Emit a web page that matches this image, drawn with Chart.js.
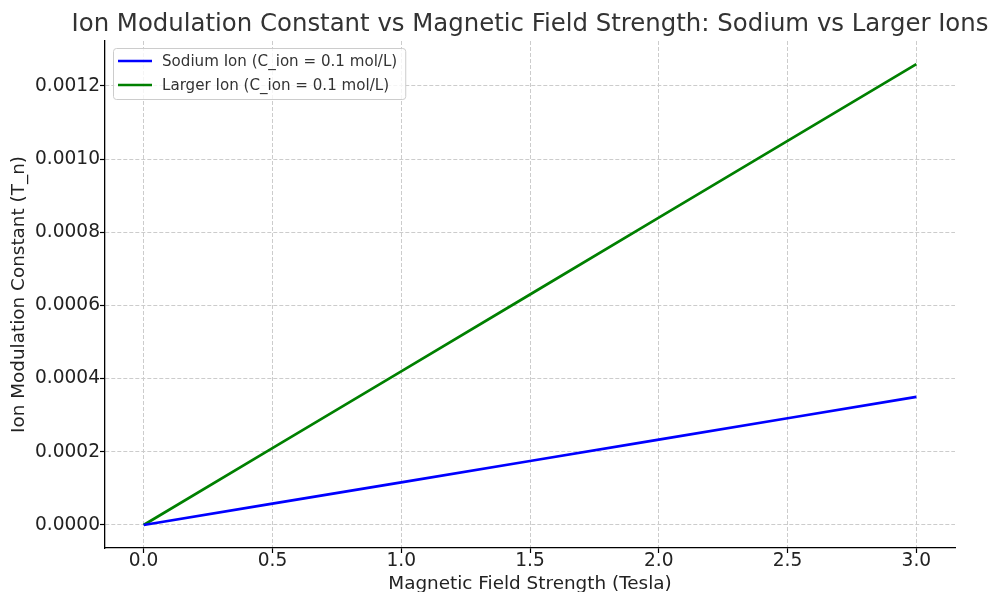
<!DOCTYPE html>
<html>
<head>
<meta charset="utf-8">
<script src="https://cdn.jsdelivr.net/npm/chart.js@4"></script>
<style>
  html, body { margin: 0; padding: 0; background: #fff; }
</style>
</head>
<body>
<canvas id="chart" width="990" height="592"></canvas>
<script>
// data
var fieldStrength = [0.0, 0.5, 1.0, 1.5, 2.0, 2.5, 3.0];
var sodiumIon = [0, 0.0000583, 0.0001167, 0.000175, 0.0002333, 0.0002917, 0.00035];
var largerIon = [0, 0.00021, 0.00042, 0.00063, 0.00084, 0.00105, 0.00126];
var seriesNames = ['Sodium Ion (C_ion = 0.1 mol/L)', 'Larger Ion (C_ion = 0.1 mol/L)'];
var xTicks = [0.0, 0.5, 1.0, 1.5, 2.0, 2.5, 3.0];
var yTicks = [0, 0.0002, 0.0004, 0.0006, 0.0008, 0.0010, 0.0012];
var chartTitle = 'Ion Modulation Constant vs Magnetic Field Strength: Sodium vs Larger Ions';

Chart.defaults.font.family = '"DejaVu Sans", sans-serif';

function toPoints(xs, ys) {
  return xs.map(function(x, i) { return { x: x, y: ys[i] }; });
}

// title centred over the plot area (built-in title squeezes it to fit)
var plotTitle = {
  id: 'plotTitle',
  afterDraw: function(chart) {
    var ctx = chart.ctx;
    var area = chart.chartArea;
    ctx.save();
    ctx.font = '24.4px "DejaVu Sans"';
    ctx.fillStyle = '#333333';
    ctx.textAlign = 'center';
    ctx.textBaseline = 'alphabetic';
    ctx.fillText(chartTitle, (area.left + area.right) / 2, 31);
    ctx.restore();
  }
};

// matplotlib-like legend box in the upper left corner of the plot
var legendBox = {
  id: 'legendBox',
  afterDraw: function(chart) {
    var ctx = chart.ctx;
    var area = chart.chartArea;
    var x = area.left + 8, y = area.top + 7;
    ctx.save();
    ctx.font = '15.1px "DejaVu Sans"';
    var w = 0;
    chart.data.datasets.forEach(function(ds) {
      w = Math.max(w, ctx.measureText(ds.label).width);
    });
    var boxW = 49 + w + 8, boxH = 51;
    ctx.beginPath();
    if (ctx.roundRect) ctx.roundRect(x + 0.5, y + 0.5, boxW, boxH, 3);
    else ctx.rect(x + 0.5, y + 0.5, boxW, boxH);
    ctx.fillStyle = 'rgba(255,255,255,0.8)';
    ctx.fill();
    ctx.strokeStyle = '#cccccc';
    ctx.lineWidth = 1;
    ctx.stroke();

    chart.data.datasets.forEach(function(ds, i) {
      var cy = y + 13 + i * 24;
      ctx.beginPath();
      ctx.moveTo(x + 5, cy);
      ctx.lineTo(x + 39, cy);
      ctx.strokeStyle = ds.borderColor;
      ctx.lineWidth = 2.7;
      ctx.stroke();
      ctx.fillStyle = '#333333';
      ctx.textBaseline = 'middle';
      ctx.textAlign = 'left';
      ctx.fillText(ds.label, x + 49, cy + 1);
    });
    ctx.restore();
  }
};

var tickFont = { size: 18.6 };

new Chart(document.getElementById('chart'), {
  type: 'line',
  data: {
    datasets: [{
      label: seriesNames[0],
      data: toPoints(fieldStrength, sodiumIon),
      borderColor: '#0000ff',
      backgroundColor: '#0000ff',
      borderWidth: 2.7,
      pointRadius: 0,
      tension: 0
    }, {
      label: seriesNames[1],
      data: toPoints(fieldStrength, largerIon),
      borderColor: '#008000',
      backgroundColor: '#008000',
      borderWidth: 2.7,
      pointRadius: 0,
      tension: 0
    }]
  },
  options: {
    responsive: false,
    animation: false,
    devicePixelRatio: 1,
    layout: { padding: { left: 0, right: 35, top: 41, bottom: 0 } },
    plugins: {
      legend: { display: false },
      tooltip: { enabled: false },
      title: { display: false }
    },
    scales: {
      x: {
        type: 'linear',
        min: -0.15,
        max: 3.15,
        afterBuildTicks: function(scale) {
          scale.ticks = xTicks.map(function(v) { return { value: v }; });
        },
        afterFit: function(scale) { scale.height = 44; },
        ticks: {
          color: '#222222',
          font: tickFont,
          padding: -3,
          maxRotation: 0,
          callback: function(v) { return v.toFixed(1); }
        },
        grid: {
          color: '#cccccc',
          lineWidth: 1,
          tickColor: '#000000',
          tickLength: 5,
          tickWidth: 1.2
        },
        border: { display: true, color: '#000000', width: 1.3, dash: [4, 2] },
        title: {
          display: true,
          text: 'Magnetic Field Strength (Tesla)',
          color: '#222222',
          font: { size: 18.4, lineHeight: 1 },
          padding: { top: 0, bottom: -1 }
        }
      },
      y: {
        type: 'linear',
        min: -0.0000629,
        max: 0.001323,
        afterBuildTicks: function(scale) {
          scale.ticks = yTicks.map(function(v) { return { value: v }; });
        },
        afterFit: function(scale) { scale.width = 105; },
        ticks: {
          color: '#222222',
          font: tickFont,
          padding: 0,
          callback: function(v) { return v.toFixed(4); }
        },
        grid: {
          color: '#cccccc',
          lineWidth: 1,
          tickColor: '#000000',
          tickLength: 5,
          tickWidth: 1.2
        },
        border: { display: true, color: '#000000', width: 1.3, dash: [4, 2] },
        title: {
          display: true,
          text: 'Ion Modulation Constant (T_n)',
          color: '#222222',
          font: { size: 18.4, lineHeight: 1 },
          padding: { top: 10, bottom: 0 }
        }
      }
    }
  },
  plugins: [plotTitle, legendBox]
});
</script>
</body>
</html>
